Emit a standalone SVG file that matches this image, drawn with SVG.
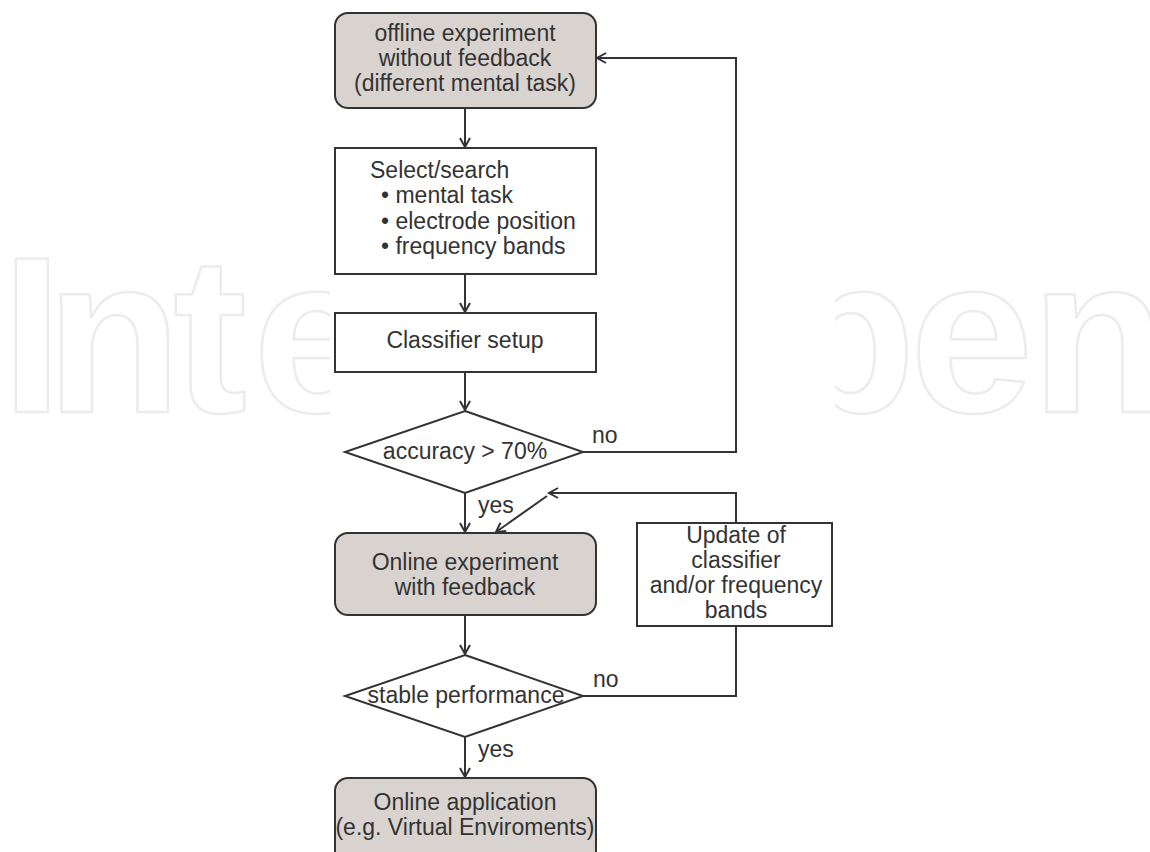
<svg xmlns="http://www.w3.org/2000/svg" width="1150" height="852" viewBox="0 0 1150 852">
<defs>
<style>
.t{font-family:"Liberation Sans",Arial,sans-serif;font-size:23px;fill:#333}
.c{text-anchor:middle}
.box{fill:#fff;stroke:#333;stroke-width:2}
.gray{fill:#d9d3d0;stroke:#333;stroke-width:2}
.ln{fill:none;stroke:#333;stroke-width:2}
.wm{font-family:"Liberation Sans",Arial,sans-serif;font-size:222px;font-weight:bold;fill:#fff;stroke:#ececec;stroke-width:2.5;stroke-linejoin:round}
</style>
<clipPath id="cl"><rect x="0" y="0" width="330" height="852"/></clipPath>
<clipPath id="cr"><rect x="835" y="0" width="315" height="852"/></clipPath>
<marker id="ah" markerUnits="userSpaceOnUse" markerWidth="14" markerHeight="14" refX="10" refY="6" orient="auto">
<path d="M1,1 L10,6 L1,11" fill="none" stroke="#333" stroke-width="2"/>
</marker>
</defs>
<rect width="1150" height="852" fill="#fff"/>
<g id="watermark">
<text class="wm" clip-path="url(#cl)" x="1 46 173 253" y="412">Inte</text>
<text class="wm" clip-path="url(#cr)" x="780 910 1031" y="412">pen</text>
</g>
<g id="connectors">
<path class="ln" d="M465,108 V147" marker-end="url(#ah)"/>
<path class="ln" d="M465,274 V312" marker-end="url(#ah)"/>
<path class="ln" d="M465,372 V410" marker-end="url(#ah)"/>
<path class="ln" d="M465,493 V532" marker-end="url(#ah)"/>
<path class="ln" d="M465,615 V654" marker-end="url(#ah)"/>
<path class="ln" d="M465,737 V777" marker-end="url(#ah)"/>
<path class="ln" d="M583,452 H736 V58 H597" marker-end="url(#ah)"/>
<path class="ln" d="M583,696 H736 V626"/>
<path class="ln" d="M736,523 V493 H549" marker-end="url(#ah)"/>
<path class="ln" d="M547,496 L496,532" marker-end="url(#ah)"/>
<text class="t" x="592" y="443">no</text>
<text class="t" x="478" y="513">yes</text>
<text class="t" x="593" y="687">no</text>
<text class="t" x="478" y="757">yes</text>
</g>
<g id="offline">
<rect class="gray" x="335" y="13" width="261" height="95" rx="13"/>
<text class="t c" x="465" y="41">offline experiment</text>
<text class="t c" x="465" y="66">without feedback</text>
<text class="t c" x="465" y="91">(different mental task)</text>
</g>
<g id="select">
<rect class="box" x="335" y="148" width="261" height="126"/>
<text class="t" x="370" y="178">Select/search</text>
<text class="t" x="381" y="203">• mental task</text>
<text class="t" x="381" y="229">• electrode position</text>
<text class="t" x="381" y="254">• frequency bands</text>
</g>
<g id="classifier">
<rect class="box" x="335" y="313" width="261" height="59"/>
<text class="t c" x="465" y="348">Classifier setup</text>
</g>
<g id="accuracy">
<polygon class="box" points="465,411 583,452 465,493 345,452"/>
<text class="t c" x="465" y="459">accuracy &gt; 70%</text>
</g>
<g id="online">
<rect class="gray" x="335" y="533" width="261" height="82" rx="13"/>
<text class="t c" x="465" y="570">Online experiment</text>
<text class="t c" x="465" y="595">with feedback</text>
</g>
<g id="update">
<rect class="box" x="637" y="523" width="195" height="103"/>
<text class="t c" x="736" y="543">Update of</text>
<text class="t c" x="736" y="568">classifier</text>
<text class="t c" x="736" y="593">and/or frequency</text>
<text class="t c" x="736" y="618">bands</text>
</g>
<g id="stable">
<polygon class="box" points="465,655 583,696 465,737 345,696"/>
<text class="t c" x="466" y="703">stable performance</text>
</g>
<g id="application">
<rect class="gray" x="335" y="778" width="261" height="95" rx="13"/>
<text class="t c" x="465" y="810">Online application</text>
<text class="t c" x="465" y="835">(e.g. Virtual Enviroments)</text>
</g>
</svg>
